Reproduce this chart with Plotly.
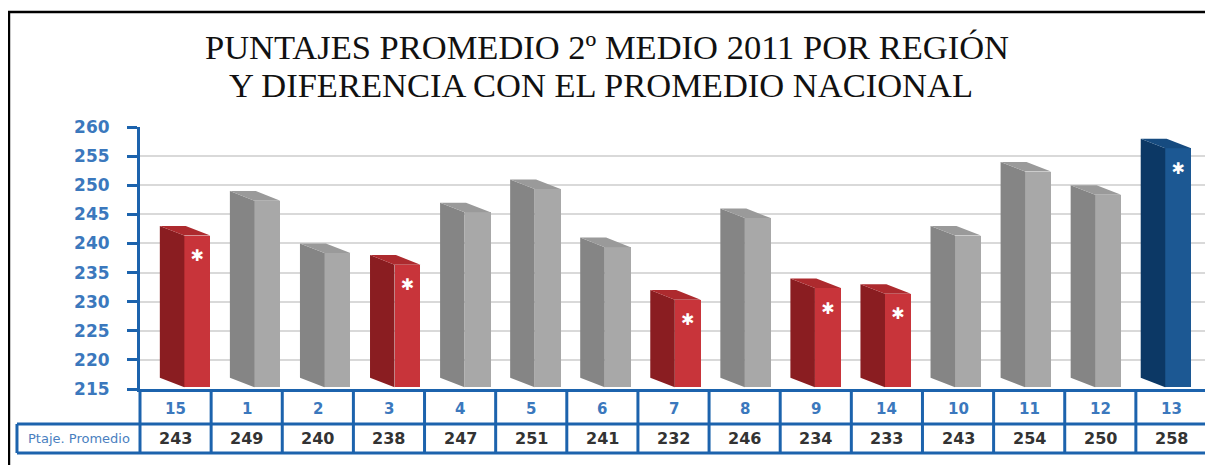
import plotly.graph_objects as go

# ---------------- data ----------------
regions = ["15", "1", "2", "3", "4", "5", "6", "7", "8", "9", "14", "10", "11", "12", "13"]
scores = [243, 249, 240, 238, 247, 251, 241, 232, 246, 234, 233, 243, 254, 250, 258]
signif = ["low", "none", "none", "low", "none", "none", "none", "low",
          "none", "low", "low", "none", "none", "none", "high"]
row_label = "Ptaje. Promedio"
title_lines = ["PUNTAJES PROMEDIO 2º MEDIO 2011 POR REGIÓN",
               "Y DIFERENCIA CON EL PROMEDIO NACIONAL"]
y_ticks = [215, 220, 225, 230, 235, 240, 245, 250, 255, 260]

# ---------------- style ----------------
palette = {
    "low": dict(front="#c8343a", side="#8a1d21", top="#ad2a2e"),
    "none": dict(front="#a8a8a8", side="#858585", top="#9a9a9a"),
    "high": dict(front="#1c5893", side="#0c3865", top="#164b80"),
}
BLUE = "#1c63ad"
TICK_BLUE = "#3b78bd"
Y_MIN, Y_MAX = y_ticks[0], y_ticks[-1]
DEPTH_X = 0.35     # oblique depth of the pseudo-3D bars (x units)
DEPTH_Y = 1.65     # oblique depth (y units)
FRONT_W = 0.37
BASE = Y_MIN + 0.3
n = len(regions)
xs = list(range(n))

fig = go.Figure()

# side faces and top faces as filled polygons, one trace per colour class
for cls, col in palette.items():
    sx, sy, tx, ty = [], [], [], []
    for i, v, s in zip(xs, scores, signif):
        if s != cls:
            continue
        ft = v - DEPTH_Y
        sx += [i, i, i - DEPTH_X, i - DEPTH_X, i, None]
        sy += [BASE, ft, v, BASE + DEPTH_Y, BASE, None]
        tx += [i, i + FRONT_W, i + FRONT_W - DEPTH_X, i - DEPTH_X, i, None]
        ty += [ft, ft, v, v, ft, None]
    if not sx:
        continue
    fig.add_trace(go.Scatter(x=sx, y=sy, fill="toself", fillcolor=col["side"],
                             mode="lines", line=dict(width=0, color=col["side"]),
                             hoverinfo="skip", showlegend=False))
    fig.add_trace(go.Scatter(x=tx, y=ty, fill="toself", fillcolor=col["top"],
                             mode="lines", line=dict(width=0, color=col["top"]),
                             hoverinfo="skip", showlegend=False))

# front faces
fig.add_trace(go.Bar(
    x=[i + FRONT_W / 2 for i in xs],
    y=[v - DEPTH_Y - BASE for v in scores],
    base=BASE,
    width=FRONT_W,
    marker=dict(color=[palette[s]["front"] for s in signif], line=dict(width=0)),
    showlegend=False, hoverinfo="skip",
))

# significance asterisks
ax_x = [i + FRONT_W / 2 for i, s in zip(xs, signif) if s != "none"]
ax_y = [v - DEPTH_Y - 3.7 for v, s in zip(scores, signif) if s != "none"]
fig.add_trace(go.Scatter(x=ax_x, y=ax_y, mode="text", text=["✱"] * len(ax_x),
                         textfont=dict(color="white", size=16, family="DejaVu Sans"),
                         textposition="middle center", hoverinfo="skip",
                         showlegend=False))

# ---------------- table below the axis ----------------
ROW1 = -0.1336
ROW2 = -0.2443
LEFT = -0.1153
shapes = []
for k in range(n + 1):
    shapes.append(dict(type="line", xref="paper", yref="paper", x0=k / n, x1=k / n,
                       y0=ROW2, y1=0, line=dict(color=BLUE, width=3)))
for yy in (ROW1, ROW2):
    shapes.append(dict(type="line", xref="paper", yref="paper", x0=LEFT, x1=1,
                       y0=yy, y1=yy, line=dict(color=BLUE, width=3)))
shapes.append(dict(type="line", xref="paper", yref="paper", x0=LEFT, x1=LEFT,
                   y0=ROW2, y1=ROW1, line=dict(color=BLUE, width=3)))
# outer black frame
shapes.append(dict(type="rect", xref="paper", yref="paper", x0=-0.1228, x1=1.0084,
                   y0=-0.34, y1=1.439, line=dict(color="black", width=2.5)))

annotations = []
for k, (r, v) in enumerate(zip(regions, scores)):
    annotations.append(dict(xref="paper", yref="paper", x=(k + 0.5) / n, y=-0.0763,
                            text=r, showarrow=False, xanchor="center", yanchor="middle",
                            font=dict(family="DejaVu Sans", size=15, color=TICK_BLUE,
                                      weight="bold")))
    annotations.append(dict(xref="paper", yref="paper", x=(k + 0.5) / n, y=-0.189,
                            text=str(v), showarrow=False, xanchor="center", yanchor="middle",
                            font=dict(family="DejaVu Sans", size=16, color="#333333",
                                      weight="bold")))
annotations.append(dict(xref="paper", yref="paper", x=-0.0576, y=-0.189,
                        text=row_label, showarrow=False, xanchor="center", yanchor="middle",
                        font=dict(family="DejaVu Sans", size=13, color="#4a7fc0")))
# title
for txt, xx, yy in zip(title_lines, (0.4381, 0.4325), (1.3053, 1.1603)):
    annotations.append(dict(xref="paper", yref="paper", x=xx, y=yy, text=txt,
                            showarrow=False, xanchor="center", yanchor="middle",
                            font=dict(family="Liberation Serif", size=34.5, color="#111111")))

fig.update_layout(
    width=1205, height=457, autosize=False,
    margin=dict(l=132, r=6, t=119, b=76, pad=0),
    paper_bgcolor="white", plot_bgcolor="white",
    bargap=0,
    xaxis=dict(range=[-0.633, 14.596], showticklabels=False, ticks="",
               showgrid=False, zeroline=False, showline=True,
               linecolor=BLUE, linewidth=3),
    yaxis=dict(range=[Y_MIN, Y_MAX], tickvals=y_ticks, showgrid=True,
               gridcolor="#d9d9d9", gridwidth=2, zeroline=False,
               showline=True, linecolor=BLUE, linewidth=3,
               ticks="outside", ticklen=10, tickwidth=3, tickcolor=BLUE,
               ticklabelstandoff=14,
               tickfont=dict(family="DejaVu Sans", size=17, color=TICK_BLUE,
                             weight="bold")),
    shapes=shapes,
    annotations=annotations,
)

fig.write_html("out.html")
